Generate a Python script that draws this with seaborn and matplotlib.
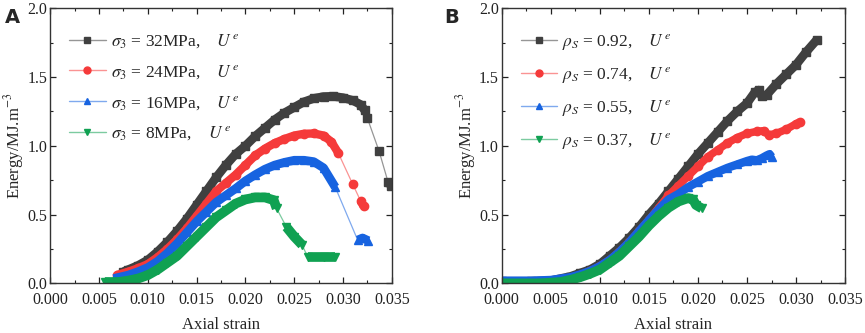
import numpy as np
import matplotlib
matplotlib.use("Agg")
import matplotlib.pyplot as plt
import seaborn as sns
from matplotlib.lines import Line2D
from matplotlib.ticker import MultipleLocator, FormatStrFormatter
from matplotlib.colors import to_rgb

sns.set_style("ticks")
plt.rcParams['font.family'] = ['Liberation Serif', 'DejaVu Sans']
plt.rcParams['mathtext.fontset'] = 'stix'

# ---- panel A: confining pressure ----
A_strain_32 = [0.0075, 0.008, 0.009, 0.010, 0.011, 0.012, 0.013, 0.014, 0.015, 0.016, 0.017, 0.018, 0.019, 0.020,
               0.021, 0.022, 0.023, 0.024, 0.025, 0.026, 0.027, 0.028, 0.029, 0.030, 0.031, 0.0318, 0.0322,
               0.0325, 0.0337, 0.0346, 0.0349]
A_energy_32 = [0.085, 0.10, 0.13, 0.17, 0.23, 0.30, 0.38, 0.47, 0.57, 0.67, 0.77, 0.86, 0.94, 1.00,
               1.07, 1.13, 1.19, 1.24, 1.28, 1.32, 1.345, 1.358, 1.36, 1.35, 1.33, 1.30, 1.26,
               1.20, 0.96, 0.74, 0.71]
A_runs_32 = [(0, 27), (29, 31)]

A_strain_24 = [0.0068, 0.008, 0.009, 0.010, 0.011, 0.012, 0.013, 0.014, 0.015, 0.016, 0.017, 0.018, 0.019, 0.020,
               0.021, 0.022, 0.023, 0.024, 0.025, 0.026, 0.027, 0.028, 0.0288, 0.0295, 0.0310, 0.0318, 0.0321]
A_energy_24 = [0.06, 0.085, 0.11, 0.14, 0.19, 0.25, 0.32, 0.40, 0.49, 0.58, 0.67, 0.73, 0.79, 0.86,
               0.93, 0.98, 1.02, 1.05, 1.075, 1.088, 1.09, 1.075, 1.03, 0.95, 0.72, 0.60, 0.56]
A_runs_24 = [(0, 24), (25, 27)]

A_strain_16 = [0.0065, 0.008, 0.009, 0.010, 0.011, 0.012, 0.013, 0.014, 0.015, 0.016, 0.017, 0.018, 0.019, 0.020,
               0.021, 0.022, 0.023, 0.024, 0.025, 0.026, 0.027, 0.028, 0.0292, 0.0315, 0.0320, 0.0326]
A_energy_16 = [0.035, 0.06, 0.085, 0.115, 0.16, 0.22, 0.29, 0.37, 0.45, 0.52, 0.59, 0.64, 0.69, 0.745,
               0.79, 0.83, 0.86, 0.88, 0.895, 0.895, 0.885, 0.84, 0.70, 0.315, 0.33, 0.31]
A_runs_16 = [(0, 23), (23, 26)]

A_strain_8 = [0.0056, 0.007, 0.008, 0.009, 0.010, 0.011, 0.012, 0.013, 0.014, 0.015, 0.016, 0.017, 0.018, 0.019,
              0.020, 0.021, 0.022, 0.0229, 0.0232, 0.0242, 0.0250, 0.0258, 0.0264, 0.0280, 0.0292]
A_energy_8 = [0.01, 0.01, 0.02, 0.035, 0.06, 0.10, 0.15, 0.20, 0.27, 0.34, 0.41, 0.48, 0.53, 0.58,
              0.61, 0.625, 0.625, 0.605, 0.545, 0.41, 0.34, 0.28, 0.19, 0.19, 0.19]
A_runs_8 = [(0, 19), (19, 22), (22, 25)]

A_labels = ['32MPa', '24MPa', '16MPa', '8MPa']

# ---- panel B: saturation ----
B_strain_092 = [0.0, 0.003, 0.005, 0.007, 0.008, 0.009, 0.010, 0.011, 0.012, 0.013, 0.014, 0.015, 0.016, 0.017,
                0.018, 0.019, 0.020, 0.021, 0.022, 0.023, 0.024, 0.025, 0.0258, 0.0262, 0.0265, 0.027, 0.028,
                0.029, 0.030, 0.031, 0.0321]
B_energy_092 = [0.015, 0.015, 0.02, 0.05, 0.075, 0.10, 0.14, 0.20, 0.26, 0.33, 0.41, 0.50, 0.58, 0.67,
                0.76, 0.85, 0.94, 1.02, 1.10, 1.18, 1.25, 1.31, 1.39, 1.405, 1.36, 1.37, 1.45,
                1.52, 1.59, 1.68, 1.77]

B_strain_074 = [0.0, 0.003, 0.005, 0.007, 0.008, 0.009, 0.010, 0.011, 0.012, 0.013, 0.014, 0.015, 0.016, 0.017,
                0.018, 0.019, 0.020, 0.021, 0.022, 0.023, 0.024, 0.025, 0.026, 0.0267, 0.0272, 0.028, 0.029,
                0.030, 0.0304]
B_energy_074 = [0.01, 0.01, 0.015, 0.04, 0.06, 0.09, 0.125, 0.17, 0.23, 0.30, 0.38, 0.46, 0.55, 0.64,
                0.71, 0.78, 0.85, 0.92, 0.97, 1.02, 1.06, 1.09, 1.105, 1.11, 1.08, 1.09, 1.12,
                1.16, 1.175]

B_strain_055 = [0.0, 0.003, 0.005, 0.007, 0.008, 0.009, 0.010, 0.011, 0.012, 0.013, 0.014, 0.015, 0.016, 0.017,
                0.018, 0.019, 0.020, 0.021, 0.022, 0.023, 0.024, 0.025, 0.0255, 0.026, 0.0265, 0.027, 0.0273,
                0.0275]
B_energy_055 = [0.02, 0.02, 0.025, 0.045, 0.065, 0.09, 0.125, 0.17, 0.23, 0.30, 0.38, 0.46, 0.54, 0.61,
                0.65, 0.70, 0.74, 0.78, 0.81, 0.84, 0.865, 0.89, 0.90, 0.895, 0.91, 0.93, 0.94,
                0.92]

B_strain_037 = [0.0, 0.004, 0.006, 0.007, 0.008, 0.009, 0.010, 0.011, 0.012, 0.013, 0.014, 0.015, 0.016, 0.017,
                0.018, 0.019, 0.0195, 0.0198, 0.0204]
B_energy_037 = [0.0, 0.0, 0.01, 0.025, 0.045, 0.07, 0.10, 0.15, 0.20, 0.27, 0.34, 0.42, 0.49, 0.55,
                0.595, 0.62, 0.61, 0.57, 0.545]

B_labels = ['0.92', '0.74', '0.55', '0.37']

colors = ['#404040', '#f53a3a', '#1763e0', '#10a152']
markers = ['s', 'o', '^', 'v']


def light(c, f=0.45):
    r, g, b = to_rgb(c)
    return (r + (1 - r) * f, g + (1 - g) * f, b + (1 - b) * f)


def draw_series(ax, x, y, runs, color, marker, band=6.3):
    x = np.asarray(x)
    y = np.asarray(y)
    # thin connecting line through all points
    sns.lineplot(x=x, y=y, ax=ax, color=light(color), lw=0.9, sort=False, estimator=None)
    # dense bands made of overlapping markers
    for a, b in runs:
        sns.lineplot(x=x[a:b], y=y[a:b], ax=ax, color=color, lw=band, sort=False, estimator=None,
                     solid_capstyle='butt', solid_joinstyle='round')
    ax.plot(x, y, ls='none', marker=marker, ms=6, color=color, mec=color)


fig = plt.figure(figsize=(8.65, 3.33), dpi=100)
axA = fig.add_axes([0.058, 0.149, 0.395, 0.826])
axB = fig.add_axes([0.580, 0.149, 0.397, 0.826])

A_data = [(A_strain_32, A_energy_32, A_runs_32), (A_strain_24, A_energy_24, A_runs_24),
          (A_strain_16, A_energy_16, A_runs_16), (A_strain_8, A_energy_8, A_runs_8)]
for (x, y, runs), c, m, bw in zip(A_data, colors, markers, [6.3, 6.0, 6.3, 7.0]):
    draw_series(axA, x, y, runs, c, m, bw)

B_data = [(B_strain_092, B_energy_092), (B_strain_074, B_energy_074),
          (B_strain_055, B_energy_055), (B_strain_037, B_energy_037)]
for (x, y), c, m, bw in zip(B_data, colors, markers, [6.3, 5.5, 6.0, 7.0]):
    draw_series(axB, x, y, [(0, len(x))], c, m, bw)

for ax in (axA, axB):
    ax.set_xlim(0, 0.035)
    ax.set_ylim(0, 2.0)
    ax.xaxis.set_major_locator(MultipleLocator(0.005))
    ax.xaxis.set_minor_locator(MultipleLocator(0.0025))
    ax.yaxis.set_major_locator(MultipleLocator(0.5))
    ax.yaxis.set_minor_locator(MultipleLocator(0.25))
    ax.xaxis.set_major_formatter(FormatStrFormatter('%.3f'))
    ax.yaxis.set_major_formatter(FormatStrFormatter('%.1f'))
    ax.tick_params(which='both', direction='in', top=True, right=True, labelsize=11.5, colors='#222222')
    ax.tick_params(which='major', length=4, width=0.9)
    ax.tick_params(which='minor', length=2.5, width=0.8)
    ax.tick_params(axis='x', which='major', pad=6)
    ax.tick_params(axis='y', which='major', pad=2)
    for s in ax.spines.values():
        s.set_visible(True)
        s.set_linewidth(1.0)
        s.set_color('#333333')
    ax.set_xlabel('Axial strain', fontsize=12, labelpad=7)
    ax.set_ylabel('Energy/MJ.m$^{-3}$', fontsize=12, labelpad=1)

handles = [Line2D([], [], color=light(c), lw=1, marker=m, ms=5, mfc=c, mec=c) for c, m in zip(colors, markers)]
labelsA = [r'$\sigma_3$ = ' + t + ',    $U^{\,e}$' for t in A_labels]
axA.legend(handles, labelsA, loc='upper left', bbox_to_anchor=(0.01, 0.97), frameon=False,
           fontsize=12.5, handlelength=2.1, handletextpad=0.3, labelspacing=0.75)

labelsB = [r'$\rho_S$ = ' + t + ',    $U^{\,e}$' for t in B_labels]
axB.legend(handles, labelsB, loc='upper left', bbox_to_anchor=(0.01, 0.97), frameon=False,
           fontsize=12.5, handlelength=2.1, handletextpad=0.3, labelspacing=0.75)

fig.text(0.006, 0.975, 'A', fontsize=14, fontweight='bold', family='DejaVu Sans', va='top')
fig.text(0.514, 0.975, 'B', fontsize=14, fontweight='bold', family='DejaVu Sans', va='top')

fig.savefig('out.png', dpi=100)
